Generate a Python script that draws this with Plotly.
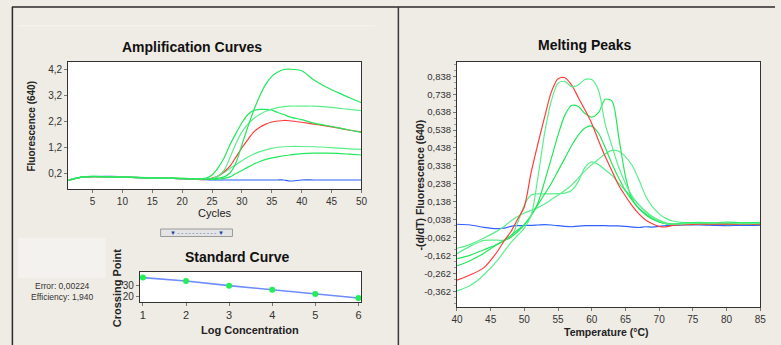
import plotly.graph_objects as go

W, H = 781, 345

def fx(px):
    return px / W

def fy(py):
    return 1 - py / H

# ---------------- Amplification curves data ----------------
amp_cycles = [1, 2, 3, 5, 8, 10, 13, 15, 18, 20, 22, 24, 25, 26, 27, 28, 29, 30, 31, 32,
              33, 34, 35, 36, 37, 38, 40, 42, 44, 46, 48, 50]
amp_A = [-0.09, -0.02, 0.03, 0.07, 0.05, 0.04, 0.02, 0.01, 0.0, -0.01, -0.03, -0.04, -0.03, 0.0, 0.05, 0.2,
         0.6, 1.3, 2.0, 2.65, 3.2, 3.65, 3.95, 4.12, 4.22, 4.23, 4.17, 3.82, 3.55, 3.33, 3.12, 2.93]
amp_B = [-0.08, -0.02, 0.03, 0.06, 0.05, 0.04, 0.02, 0.01, 0.0, -0.01, -0.02, -0.03, -0.01, 0.08, 0.3, 0.8,
         1.35, 1.8, 2.1, 2.32, 2.48, 2.6, 2.68, 2.74, 2.78, 2.8, 2.8, 2.8, 2.77, 2.72, 2.67, 2.62]
amp_C = [-0.09, -0.01, 0.03, 0.07, 0.05, 0.04, 0.03, 0.01, 0.0, -0.02, -0.03, 0.0, 0.12, 0.4, 0.78, 1.3,
         1.74, 2.15, 2.47, 2.63, 2.67, 2.67, 2.64, 2.55, 2.47, 2.38, 2.27, 2.14, 2.05, 1.96, 1.87, 1.78]
amp_red = [-0.08, -0.02, 0.03, 0.06, 0.05, 0.04, 0.02, 0.01, 0.0, -0.02, -0.04, -0.05, 0.0, 0.08, 0.25, 0.47,
           0.82, 1.18, 1.5, 1.8, 1.98, 2.1, 2.18, 2.22, 2.24, 2.23, 2.17, 2.1, 2.03, 1.95, 1.86, 1.8]
amp_E = [-0.08, -0.02, 0.03, 0.06, 0.05, 0.04, 0.02, 0.01, 0.0, -0.01, -0.03, -0.04, -0.02, 0.08, 0.22, 0.38,
         0.52, 0.68, 0.82, 0.94, 1.03, 1.1, 1.16, 1.2, 1.22, 1.23, 1.23, 1.22, 1.2, 1.17, 1.14, 1.12]
amp_F = [-0.09, -0.02, 0.03, 0.06, 0.05, 0.04, 0.02, 0.01, 0.0, -0.02, -0.04, -0.05, -0.05, -0.04, -0.01, 0.05,
         0.18, 0.3, 0.43, 0.55, 0.65, 0.73, 0.79, 0.83, 0.87, 0.9, 0.95, 0.97, 0.97, 0.96, 0.93, 0.9]
amp_blue = [-0.06, -0.02, 0.03, 0.06, 0.07, 0.05, 0.02, 0.01, 0.0, -0.02, -0.04, -0.06, -0.07, -0.07, -0.07, -0.07,
            -0.07, -0.07, -0.07, -0.07, -0.07, -0.07, -0.07, -0.07, -0.07, -0.11, -0.07, -0.07, -0.07, -0.07, -0.07, -0.07]
amp_xticks = [5, 10, 15, 20, 25, 30, 35, 40, 45, 50]
amp_yticks = [0.2, 1.2, 2.2, 3.2, 4.2]
amp_ytext = ["0,2", "1,2", "2,2", "3,2", "4,2"]

# ---------------- Melting peaks data ----------------
temps = [40, 42, 44, 46, 47, 48, 49, 50, 51, 52, 53, 54, 55, 56, 57, 58, 59, 60, 61, 62, 63, 64, 65,
         66, 67, 68, 69, 70, 71, 72, 74, 76, 78, 80, 82, 85]
melt_red = [-0.30, -0.27, -0.23, -0.14, -0.08, -0.03, 0.04, 0.11, 0.30, 0.46, 0.61, 0.75, 0.825, 0.83, 0.79,
            0.72, 0.65, 0.575, 0.48, 0.39, 0.31, 0.23, 0.17, 0.115, 0.07, 0.036, 0.015, 0.0, -0.003, 0.006,
            0.01, 0.012, 0.012, 0.013, 0.012, 0.012]
melt_G1 = [-0.36, -0.33, -0.27, -0.19, -0.14, -0.09, -0.05, -0.01, 0.06, 0.27, 0.52, 0.70, 0.80, 0.81, 0.78,
           0.79, 0.82, 0.82, 0.76, 0.57, 0.45, 0.33, 0.24, 0.17, 0.12, 0.08, 0.05, 0.03, 0.015, 0.012,
           0.015, 0.02, 0.018, 0.02, 0.015, 0.018]
melt_G2 = [-0.22, -0.19, -0.15, -0.10, -0.08, -0.05, -0.02, 0.01, 0.06, 0.13, 0.25, 0.38, 0.51, 0.62, 0.675,
           0.67, 0.63, 0.61, 0.635, 0.71, 0.70, 0.50, 0.28, 0.15, 0.10, 0.07, 0.045, 0.025, 0.015, 0.012,
           0.02, 0.022, 0.02, 0.024, 0.02, 0.022]
melt_G3 = [-0.18, -0.16, -0.13, -0.10, -0.08, -0.06, -0.03, 0.01, 0.06, 0.12, 0.18, 0.24, 0.31, 0.38, 0.45,
           0.51, 0.55, 0.56, 0.52, 0.44, 0.35, 0.27, 0.20, 0.145, 0.10, 0.065, 0.04, 0.025, 0.015, 0.01,
           0.012, 0.015, 0.012, 0.016, 0.014, 0.015]
melt_G4 = [-0.152, -0.11, -0.078, -0.077, -0.077, -0.06, 0.02, 0.12, 0.175, 0.182, 0.182, 0.182, 0.183, 0.186,
           0.20, 0.25, 0.33, 0.36, 0.345, 0.315, 0.285, 0.24, 0.20, 0.16, 0.12, 0.085, 0.055, 0.035, 0.02,
           0.015, 0.01, 0.012, 0.015, 0.01, 0.012, 0.01]
melt_G5 = [-0.122, -0.10, -0.065, -0.025, 0.0, 0.03, 0.055, 0.075, 0.09, 0.105, 0.125, 0.15, 0.175, 0.20,
           0.23, 0.27, 0.31, 0.345, 0.375, 0.405, 0.425, 0.42, 0.39, 0.34, 0.26, 0.17, 0.11, 0.07, 0.045,
           0.03, 0.02, 0.018, 0.02, 0.016, 0.02, 0.018]
melt_blue = [0.012, 0.008, -0.005, -0.012, -0.01, 0.0, 0.004, 0.005, 0.006, 0.008, 0.01, 0.008, 0.004, 0.0,
             -0.002, 0.002, 0.004, 0.004, 0.004, 0.004, 0.003, 0.003, 0.0, -0.004, -0.006, -0.002, -0.004,
             0.0, 0.004, 0.006, 0.008, 0.008, 0.006, 0.004, 0.006, 0.005]
melt_xticks = [40, 45, 50, 55, 60, 65, 70, 75, 80, 85]
melt_yticks = [0.838, 0.738, 0.638, 0.538, 0.438, 0.338, 0.238, 0.138, 0.038, -0.062, -0.162, -0.262, -0.362]
melt_ytext = ["0,838", "0,738", "0,638", "0,538", "0,438", "0,338", "0,238", "0,138", "0,038",
              "-0,062", "-0,162", "-0,262", "-0,362"]

# ---------------- Standard curve data ----------------
log_conc = [1, 2, 3, 4, 5, 6]
crossing_point = [36.6, 33.7, 29.7, 26.3, 22.6, 19.1]
std_xticks = [1, 2, 3, 4, 5, 6]
std_yticks = [20, 30]

GREEN = "#22e85c"
GREEN2 = "#5cee8c"
RED = "#ff3c3c"
BLUE = "#3060ff"
BG = "#efebe5"
FONT = "Liberation Sans, Arial, sans-serif"

fig = go.Figure()

def add(x, y, color, xa, ya, width=1.2):
    fig.add_trace(go.Scatter(x=x, y=y, mode="lines", xaxis=xa, yaxis=ya,
                             line=dict(color=color, width=width, shape="spline", smoothing=0.8),
                             hoverinfo="skip", showlegend=False))

# amplification
add(amp_cycles, amp_blue, BLUE, "x", "y")
add(amp_cycles, amp_F, GREEN, "x", "y")
add(amp_cycles, amp_E, GREEN2, "x", "y")
add(amp_cycles, amp_red, RED, "x", "y")
add(amp_cycles, amp_C, GREEN, "x", "y")
add(amp_cycles, amp_B, GREEN2, "x", "y")
add(amp_cycles, amp_A, GREEN, "x", "y")

# melting
add(temps, melt_blue, BLUE, "x2", "y2")
add(temps, melt_G5, GREEN2, "x2", "y2")
add(temps, melt_G4, GREEN2, "x2", "y2")
add(temps, melt_G3, GREEN, "x2", "y2")
add(temps, melt_G2, GREEN, "x2", "y2")
add(temps, melt_red, RED, "x2", "y2")
add(temps, melt_G1, GREEN2, "x2", "y2")

# standard curve
fig.add_trace(go.Scatter(x=log_conc, y=crossing_point, mode="lines+markers", xaxis="x3", yaxis="y3",
                         line=dict(color="#6f8cff", width=1.6),
                         marker=dict(color="#22ee55", size=6),
                         hoverinfo="skip", showlegend=False))

def axis(domain, rng, tickvals, ticktext=None, size=10, anchor=None, minor=None):
    d = dict(domain=domain, range=rng, tickmode="array", tickvals=tickvals,
             ticks="outside", ticklen=3, tickcolor="#777", showgrid=False, zeroline=False,
             showline=True, mirror=True, linecolor="#333", linewidth=1,
             tickfont=dict(family=FONT, size=size, color="#333"), anchor=anchor, fixedrange=True)
    if ticktext is not None:
        d["ticktext"] = ticktext
    if minor is not None:
        d["minor"] = minor
    return d

layout = dict(
    width=W, height=H, margin=dict(l=0, r=0, t=0, b=0),
    paper_bgcolor=BG, plot_bgcolor="white", showlegend=False,
    xaxis=axis([fx(63), fx(361)], [0.9, 50], amp_xticks, anchor="y"),
    yaxis=axis([fy(189), fy(62)], [-0.42, 4.51], amp_yticks, amp_ytext, anchor="x"),
    xaxis2=axis([fx(458), fx(766)], [40, 85], melt_xticks, anchor="y2"),
    yaxis2=axis([fy(307), fy(62)], [-0.45, 0.918], melt_yticks, melt_ytext, size=9.5, anchor="x2",
                minor=dict(ticks="outside", ticklen=2, tickcolor="#999", tick0=0.038, dtick=0.1 / 3)),
    xaxis3=axis([fx(136), fx(361)], [0.93, 6.07], std_xticks, size=11, anchor="y3"),
    yaxis3=axis([fy(302), fy(272)], [15.7, 41.4], std_yticks, size=10, anchor="x3"),
)
fig.update_layout(**layout)

shapes = [
    dict(type="line", xref="paper", yref="paper", x0=fx(12), x1=fx(375), y0=fy(26), y1=fy(26),
         line=dict(color="#f8f6f2", width=1)),
    dict(type="rect", xref="paper", yref="paper", x0=fx(12), x1=fx(101), y0=fy(278), y1=fy(238),
         fillcolor="#f4f2ee", line=dict(width=0)),
    dict(type="rect", xref="paper", yref="paper", x0=fx(157), x1=fx(230), y0=fy(236.5), y1=fy(229),
         fillcolor="#e4e4e4", line=dict(color="#9a9a9a", width=1)),
    dict(type="line", xref="paper", yref="paper", x0=fx(6), x1=1, y0=fy(7), y1=fy(7),
         line=dict(color="#2a2a2a", width=1.5)),
    dict(type="line", xref="paper", yref="paper", x0=fx(6.5), x1=fx(6.5), y0=fy(7), y1=0,
         line=dict(color="#2a2a2a", width=1.5)),
    dict(type="line", xref="paper", yref="paper", x0=fx(398.5), x1=fx(398.5), y0=fy(7), y1=0,
         line=dict(color="#3a3a3a", width=1.5)),
]
fig.update_layout(shapes=shapes)

def ann(text, px, py, size, bold=False, angle=0, color="#111"):
    t = "<b>%s</b>" % text if bold else text
    return dict(text=t, x=fx(px), y=fy(py), xref="paper", yref="paper", showarrow=False,
                xanchor="center", yanchor="middle", textangle=angle,
                font=dict(family=FONT, size=size, color=color))

annotations = [
    ann("Amplification Curves", 189, 47, 14, bold=True),
    ann("Cycles", 212, 213, 11, color="#222"),
    ann("Fluorescence (640)", 25, 126, 10, bold=True, angle=-90, color="#222"),
    ann("Melting Peaks", 588, 45, 14, bold=True),
    ann("Temperature (°C)", 610, 332, 10.5, bold=True, color="#222"),
    ann("-(d/dT) Fluorescence (640)", 420, 185, 10.5, bold=True, angle=-90, color="#222"),
    ann("Standard Curve", 235, 257, 14, bold=True),
    ann("Crossing Point", 113, 288, 11, bold=True, angle=-90, color="#222"),
    ann("Log Concentration", 248, 330, 11, bold=True, color="#222"),
    ann("Error: 0,00224", 57, 286, 8.5, color="#333"),
    ann("Efficiency: 1,940", 57, 297, 8.5, color="#333"),
    ann("▼ - - - - - - - - - - - ▼", 193.5, 232.8, 6, color="#2040a0"),
]
fig.update_layout(annotations=annotations)

fig.write_html("out.html", config={"displayModeBar": False},
               post_script="document.body.style.margin='0px';")
